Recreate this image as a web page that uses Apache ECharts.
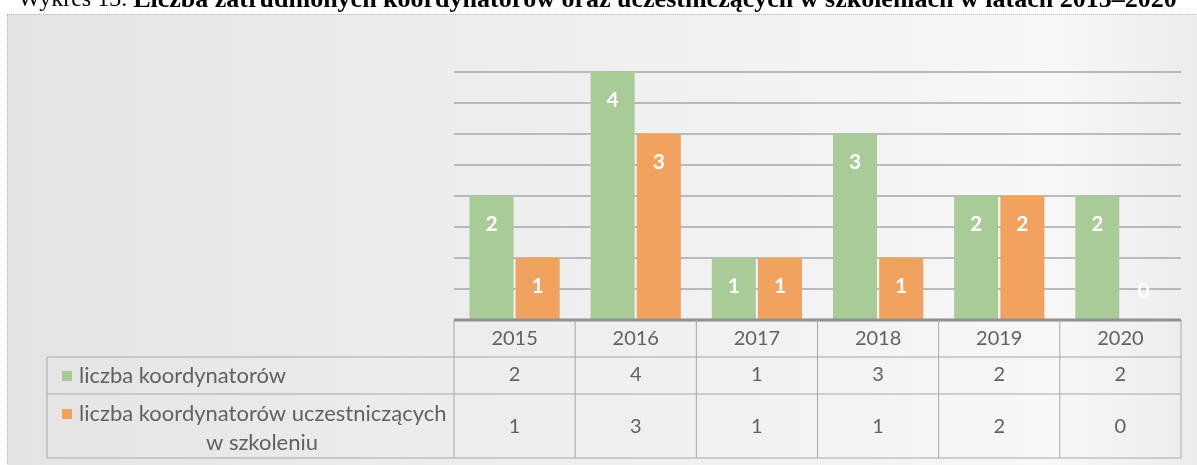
<!DOCTYPE html>
<html>
<head>
<meta charset="utf-8">
<script src="https://cdn.jsdelivr.net/npm/echarts@6/dist/echarts.min.js"></script>
<style>
  html, body { margin:0; padding:0; background:#ffffff; }
  #wrap { position:relative; width:1197px; height:465px; overflow:hidden; background:#ffffff; }
  #frame { position:absolute; left:7px; top:14px; width:1190px; height:451px;
    border-left:1px dotted #b5b5b5; border-top:1px dotted #b5b5b5;
    background:linear-gradient(90deg, #e4e4e5 0%, #ebebec 30%, #f1f1f2 60%, #f7f7f7 88%, #ececec 100%); }
  #c { position:absolute; left:0; top:0; width:1197px; height:465px; }
</style>
</head>
<body>
<div id="wrap"><div id="frame"></div><div id="c"></div></div>
<script>
// ---- data ----
const categories = ['2015', '2016', '2017', '2018', '2019', '2020'];
const koordynatorzy = [2, 4, 1, 3, 2, 2];
const uczestniczacy = [1, 3, 1, 1, 2, 0];
const seriesNames = ['liczba koordynatorów', 'liczba koordynatorów uczestniczących', 'w szkoleniu'];
const titleNormal = 'Wykres 13. ';
const titleBold = 'Liczba zatrudnionych koordynatorów oraz uczestniczących w szkoleniach w latach 2015–2020';

// ---- style ----
const GREEN = '#a9cb98';
const ORANGE = '#f0a25e';
const TEXT = '#616161';
const BORDER = '#a8a8a8';
const FONT = 'Lato, "Open Sans", sans-serif';

const chart = echarts.init(document.getElementById('c'), null, { renderer: 'canvas' });

function barData(arr) {
  return arr.map(v => v === 0
    ? { value: v, label: { position: 'top', distance: 18 } }
    : v);
}

const labelStyle = {
  show: true, position: 'insideTop', distance: 18,
  color: '#ffffff', fontFamily: FONT, fontWeight: 'bold', fontSize: 21
};

chart.setOption({
  animation: false,
  backgroundColor: 'transparent',
  grid: { left: 454, right: 16, top: 72, bottom: 145 },
  xAxis: {
    type: 'category', data: categories,
    axisLine: { show: false }, axisTick: { show: false }, axisLabel: { show: false },
    splitLine: { show: false }
  },
  yAxis: {
    type: 'value', min: 0, max: 4, interval: 0.5,
    axisLine: { show: false }, axisTick: { show: false }, axisLabel: { show: false },
    splitLine: { show: true, lineStyle: { color: '#a3a7ae', width: 1.5 } }
  },
  series: [
    { name: seriesNames[0], type: 'bar', data: barData(koordynatorzy), barWidth: 44, barGap: '5%',
      itemStyle: { color: GREEN }, label: labelStyle },
    { name: seriesNames[1], type: 'bar', data: barData(uczestniczacy), barWidth: 44, barGap: '5%',
      itemStyle: { color: ORANGE }, label: labelStyle }
  ]
});

// ---- data table (built from the arrays, positioned by the category axis) ----
const top0 = 320, r1 = 357, r2 = 394, bot = 458;
const leftX = 47;
const centers = categories.map(c => chart.convertToPixel({ xAxisIndex: 0 }, c));
const half = (centers[1] - centers[0]) / 2;
const tabL = centers[0] - half, tabR = centers[centers.length - 1] + half;

const g = [];
function line(x1, y1, x2, y2, color, w) {
  g.push({ type: 'line', silent: true, z: 10,
    shape: { x1, y1, x2, y2 }, style: { stroke: color || BORDER, lineWidth: w || 1 } });
}
function text(t, x, y, align, size, weight) {
  g.push({ type: 'text', silent: true, z: 11, x, y,
    style: { text: t, fill: TEXT, font: (weight || 'normal') + ' ' + (size || 20) + 'px ' + FONT,
      align: align || 'center', verticalAlign: 'middle' } });
}
// borders
line(tabL, top0, tabR, top0, '#8f9093', 3);
line(leftX, r1, tabR, r1);
line(leftX, r2, tabR, r2);
line(leftX, bot, tabR, bot);
line(leftX, r1, leftX, bot);
for (let i = 0; i <= categories.length; i++) {
  const x = tabL + i * 2 * half;
  line(x, top0, x, bot);
}
// cells
categories.forEach((c, i) => {
  text(c, centers[i], 339, 'center', 20);
  text(String(koordynatorzy[i]), centers[i], 375, 'center', 20);
  text(String(uczestniczacy[i]), centers[i], 427, 'center', 20);
});
// legend cells
g.push({ type: 'rect', silent: true, z: 11, shape: { x: 62, y: 371, width: 10, height: 10 }, style: { fill: GREEN } });
text(seriesNames[0], 79, 376, 'left', 22);
g.push({ type: 'rect', silent: true, z: 11, shape: { x: 62, y: 409, width: 10, height: 10 }, style: { fill: ORANGE } });
text(seriesNames[1], 79, 414, 'left', 22);
text(seriesNames[2], 262, 443, 'center', 22);

// title (partly cut at the top edge, as in the scan)
g.push({ type: 'text', silent: true, z: 11, x: 18, y: 0,
  style: {
    text: '{n|' + titleNormal + '}{b|' + titleBold + '}',
    verticalAlign: 'middle', align: 'left',
    rich: {
      n: { fontFamily: '"Liberation Serif", "DejaVu Serif", serif', fontSize: 24, color: '#222' },
      b: { fontFamily: '"Liberation Serif", "DejaVu Serif", serif', fontSize: 26, fontWeight: 'bold', color: '#222' }
    }
  } });

chart.setOption({ graphic: { elements: g } });
</script>
</body>
</html>
